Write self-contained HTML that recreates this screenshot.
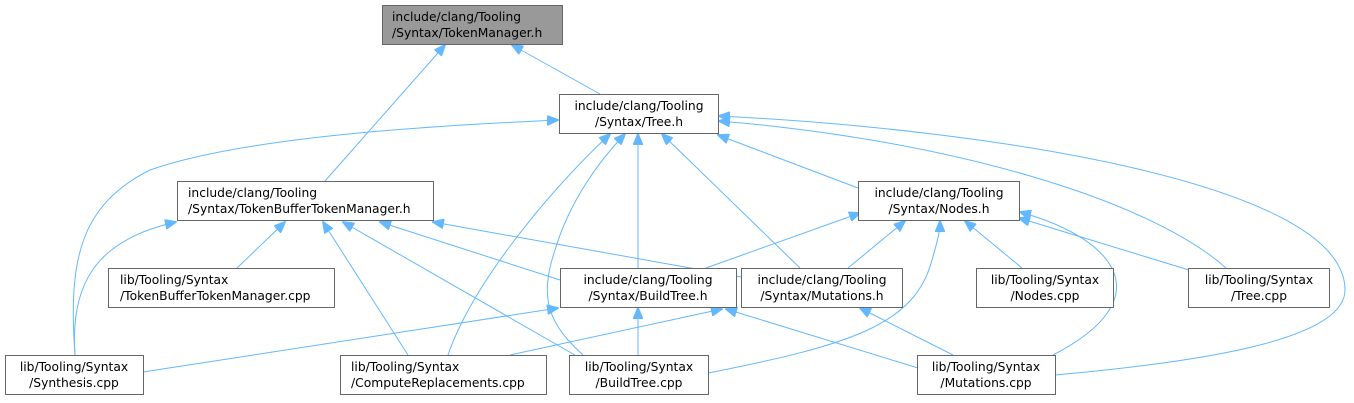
<!DOCTYPE html>
<html><head><meta charset="utf-8"><style>
html,body{margin:0;padding:0;background:#fff;}
svg{display:block}
text{font-family:"DejaVu Sans","Liberation Sans",sans-serif;font-size:12.3px;fill:#000}
.m{text-anchor:middle}
.e{fill:none;stroke:#63b8ff;stroke-width:1}
.b{fill:#fff;stroke:#666;stroke-width:1}
</style></head><body>
<svg width="1354" height="403" viewBox="0 0 1354 403" xmlns="http://www.w3.org/2000/svg">
<defs><marker id="a" markerWidth="12" markerHeight="10" refX="11" refY="5" orient="auto" markerUnits="userSpaceOnUse"><path d="M0,0 L12,5 L0,10 z" fill="#63b8ff" stroke="#63b8ff"/></marker></defs>
<g marker-end="url(#a)">
<path class="e" d="M600,94 L512,45"/>
<path class="e" d="M325,181 L445,45"/>
<path class="e" d="M75,355 C68,260 80,205 150,170 C250,135 450,125 558,120"/>
<path class="e" d="M75,355 C70,285 95,240 176,222"/>
<path class="e" d="M237,268 L285,222"/>
<path class="e" d="M408,355 L323,222"/>
<path class="e" d="M580,358 L343,222"/>
<path class="e" d="M560,280 L380,222"/>
<path class="e" d="M741,277 L433,222"/>
<path class="e" d="M858,188 L718,135"/>
<path class="e" d="M638,268 L638,134"/>
<path class="e" d="M800,268 L662,134"/>
<path class="e" d="M583,355 C550,325 538,300 555,250 C570,200 600,160 625,134"/>
<path class="e" d="M448,355 C470,290 540,200 610,134"/>
<path class="e" d="M1226,268 C1150,200 950,140 719,121"/>
<path class="e" d="M1055,375 C1200,362 1345,340 1345,290 C1345,185 1000,130 719,116"/>
<path class="e" d="M706,268 L860,213"/>
<path class="e" d="M848,268 L905,221"/>
<path class="e" d="M708,373 C850,345 915,325 932,260 C938,240 940,230 940,221"/>
<path class="e" d="M1022,268 L965,221"/>
<path class="e" d="M1189,270 L1019,218"/>
<path class="e" d="M1053,355 C1160,300 1120,240 1020,212"/>
<path class="e" d="M143,372 L558,308"/>
<path class="e" d="M638,355 L638,308"/>
<path class="e" d="M510,355 L722,309"/>
<path class="e" d="M918,368 L726,309"/>
<path class="e" d="M953,355 L860,308"/>
</g>
<rect x="382.5" y="5.5" width="180" height="39" fill="#999" stroke="#666"/>
<text x="392" y="21">include/clang/Tooling</text><text x="392" y="37">/Syntax/TokenManager.h</text>
<rect class="b" x="559.5" y="94.5" width="159" height="39"/>
<text class="m" x="639" y="110">include/clang/Tooling</text><text class="m" x="639" y="126">/Syntax/Tree.h</text>
<rect class="b" x="177.5" y="181.5" width="256" height="39"/>
<text x="188" y="197">include/clang/Tooling</text><text x="188" y="213">/Syntax/TokenBufferTokenManager.h</text>
<rect class="b" x="858.5" y="181.5" width="161" height="39"/>
<text class="m" x="939" y="197">include/clang/Tooling</text><text class="m" x="939" y="213">/Syntax/Nodes.h</text>
<rect class="b" x="108.5" y="268.5" width="226" height="39"/>
<text x="120" y="284">lib/Tooling/Syntax</text><text x="120" y="300">/TokenBufferTokenManager.cpp</text>
<rect class="b" x="560.5" y="268.5" width="176" height="39"/>
<text class="m" x="648" y="284">include/clang/Tooling</text><text class="m" x="648" y="300">/Syntax/BuildTree.h</text>
<rect class="b" x="741.5" y="268.5" width="161" height="39"/>
<text class="m" x="822" y="284">include/clang/Tooling</text><text class="m" x="822" y="300">/Syntax/Mutations.h</text>
<rect class="b" x="976.5" y="268.5" width="137" height="39"/>
<text class="m" x="1045" y="284">lib/Tooling/Syntax</text><text class="m" x="1045" y="300">/Nodes.cpp</text>
<rect class="b" x="1188.5" y="268.5" width="141" height="39"/>
<text class="m" x="1259" y="284">lib/Tooling/Syntax</text><text class="m" x="1259" y="300">/Tree.cpp</text>
<rect class="b" x="5.5" y="355.5" width="138" height="39"/>
<text class="m" x="74" y="371">lib/Tooling/Syntax</text><text class="m" x="74" y="387">/Synthesis.cpp</text>
<rect class="b" x="340.5" y="355.5" width="206" height="39"/>
<text x="351" y="371">lib/Tooling/Syntax</text><text x="351" y="387">/ComputeReplacements.cpp</text>
<rect class="b" x="569.5" y="355.5" width="139" height="39"/>
<text class="m" x="639" y="371">lib/Tooling/Syntax</text><text class="m" x="639" y="387">/BuildTree.cpp</text>
<rect class="b" x="917.5" y="355.5" width="138" height="39"/>
<text class="m" x="986" y="371">lib/Tooling/Syntax</text><text class="m" x="986" y="387">/Mutations.cpp</text>
</svg>
</body></html>
